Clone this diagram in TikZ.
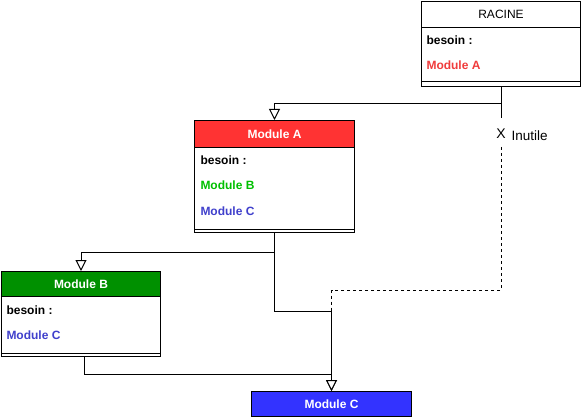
\documentclass[tikz,border=0pt]{standalone}
\usepackage{fontspec}
\setmainfont{Liberation Sans}
\usetikzlibrary{arrows.meta}
\definecolor{hred}{HTML}{FF3333}
\definecolor{hgreen}{HTML}{009000}
\definecolor{hblue}{HTML}{3333FF}
\definecolor{tred}{HTML}{F03C3C}
\definecolor{tgreen}{HTML}{00C000}
\definecolor{tblue}{HTML}{4040CC}
\begin{document}
\begin{tikzpicture}[x=1pt,y=-1pt,line width=1pt,
  font=\fontsize{12}{14}\selectfont,
  classbox/.style={draw, anchor=north west, minimum width=159pt, inner sep=0pt},
  header/.style={draw, anchor=north west, minimum width=159pt, inner sep=0pt, text=white, font=\fontsize{12}{14}\selectfont\bfseries},
  item/.style={anchor=west, inner sep=0pt, font=\fontsize{12}{14}\selectfont\bfseries},
  edge/.style={-{Triangle[open,length=11pt,width=11pt,fill=white]}},
  dashline/.style={dash pattern=on 3pt off 3pt}]
\fill[white] (0,0) rectangle (581,417);
\useasboundingbox (0,0) rectangle (581,417);

% RACINE
\node[classbox, minimum height=85pt] (racine) at (421,1) {};
\node[header, minimum height=26pt, text=black, font=\fontsize{12}{14}\selectfont] (racineH) at (421,1) {RACINE};
\draw ([yshift=5pt]racine.south west) -- ([yshift=5pt]racine.south east);
\node[item] (r1) at (426,40) {besoin :};
\node[item, text=tred] (r2) at (426,65) {Module A};

% Module A
\node[classbox, minimum width=160pt, minimum height=112pt] (modA) at (194,120) {};
\node[header, minimum width=160pt, minimum height=27pt, fill=hred] (modAH) at (194,120) {Module A};
\draw ([yshift=4pt]modA.south west) -- ([yshift=4pt]modA.south east);
\node[item] (a1) at (200,160) {besoin :};
\node[item, text=tgreen] (a2) at (200,185) {Module B};
\node[item, text=tblue] (a3) at (200,211) {Module C};

% Module B
\node[classbox, minimum height=85pt] (modB) at (1,271) {};
\node[header, minimum height=25pt, fill=hgreen] (modBH) at (1,271) {Module B};
\draw ([yshift=4pt]modB.south west) -- ([yshift=4pt]modB.south east);
\node[item] (b1) at (6,310) {besoin :};
\node[item, text=tblue] (b2) at (6,335) {Module C};

% Module C
\node[header, minimum width=160pt, minimum height=25pt, fill=hblue] (modC) at (251,391) {Module C};

% connectors
\coordinate (bstart) at ([xshift=3.5pt]modB.south);
\coordinate (join) at (modA.south |- 0,311);
\coordinate (dtop) at (racine.south |- 0,118);
\coordinate (dstart) at (racine.south |- 0,147);
\coordinate (dbend) at (modC.north |- 0,290);
\coordinate (djoin) at (modC.north |- 0,311);

\draw[edge] (racine.south) -- ++(0,17) -| (modA.north);
\draw[edge] (modA.south) -- ++(0,19) -| (modB.north);
\draw[edge] (modA.south) -- (join) -| (modC.north);
\draw[edge] (bstart) -- ++(0,17) -| (modC.north);
\draw (racine.south) -- (dtop);
\draw[dashline] (dstart) |- (dbend) -- (djoin);

\node[inner sep=0pt, font=\fontsize{14}{16}\selectfont] (xmark) at (racine.south |- 0,134) {X};
\node[anchor=west, inner sep=0pt, font=\fontsize{13.5}{16}\selectfont] (inutile) at (511,136) {Inutile};
\end{tikzpicture}
\end{document}
